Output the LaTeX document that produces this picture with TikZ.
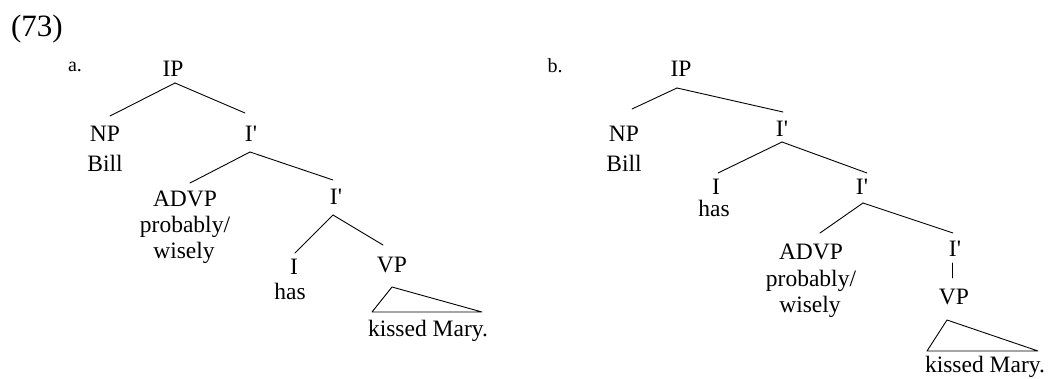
\documentclass[tikz,border=0pt]{standalone}
\usepackage{fontspec}
\setmainfont{Liberation Serif}
\usetikzlibrary{calc}
\newcommand{\ibar}{I\textquotesingle}
\begin{document}
\begin{tikzpicture}[x=1pt,y=-1pt,
  lab/.style={inner sep=0pt,anchor=base,font=\fontsize{23.5}{27}\selectfont},
  tag/.style={inner sep=0pt,anchor=base,font=\fontsize{20}{24}\selectfont},
  num/.style={inner sep=0pt,anchor=base,font=\fontsize{31}{36}\selectfont},
  edge/.style={line width=0.9pt,line cap=round,line join=round}]
\useasboundingbox (0,0) rectangle (1050,379);
\node[num] (ex) at (37,37) {(73)};
\node[tag] (la) at (75,72) {a.};
\node[tag] (lb) at (555,73) {b.};
% tree a
\node[lab] (IPa) at (173,77) {IP};
\node[lab] (NPa) at (105,142) {NP};
\node[lab] (Billa) at (105,172) {Bill};
\node[lab] (I1a) at (251,142) {\ibar};
\node[lab] (ADVPa) at (185,207) {ADVP};
\node[lab] (proba) at (185,233) {probably/};
\node[lab] (wisa) at (184,259) {wisely};
\node[lab] (I2a) at (336,205) {\ibar};
\node[lab] (Ia) at (294,275) {I};
\node[lab] (hasa) at (290,300) {has};
\node[lab] (VPa) at (392,273) {VP};
\node[lab] (kma) at (428,337) {kissed Mary.};
\draw[edge] ($(IPa.base)+(2,6)$) -- ($(NPa.base)+(5,-26)$);
\draw[edge] ($(IPa.base)+(2,6)$) -- ($(I1a.base)+(-6,-29)$);
\draw[edge] ($(I1a.base)+(-1,10)$) -- ($(ADVPa.base)+(5,-24)$);
\draw[edge] ($(I1a.base)+(-1,10)$) -- ($(I2a.base)+(-3,-25)$);
\draw[edge] ($(I2a.base)+(-3,10)$) -- ($(Ia.base)+(1,-22)$);
\draw[edge] ($(I2a.base)+(-3,10)$) -- ($(VPa.base)+(-9,-28)$);
\draw[edge] ($(VPa.base)+(0,14)$) -- ($(kma.base)+(-56,-25)$) -- ($(kma.base)+(54,-25)$) -- cycle;
% tree b
\node[lab] (IPb) at (681,77) {IP};
\node[lab] (NPb) at (624,142) {NP};
\node[lab] (Billb) at (624,172) {Bill};
\node[lab] (I1b) at (782,137) {\ibar};
\node[lab] (Ib) at (716,195) {I};
\node[lab] (hasb) at (714,217) {has};
\node[lab] (I2b) at (862,195) {\ibar};
\node[lab] (ADVPb) at (811,260) {ADVP};
\node[lab] (probb) at (811,287) {probably/};
\node[lab] (wisb) at (810,313) {wisely};
\node[lab] (I3b) at (955,257) {\ibar};
\node[lab] (VPb) at (954,305) {VP};
\node[lab] (kmb) at (985,373) {kissed Mary.};
\draw[edge] ($(IPb.base)+(-4,11)$) -- ($(NPb.base)+(8,-33)$);
\draw[edge] ($(IPb.base)+(-4,11)$) -- ($(I1b.base)+(1,-25)$);
\draw[edge] ($(I1b.base)+(0,5)$) -- ($(Ib.base)+(2,-22)$);
\draw[edge] ($(I1b.base)+(0,5)$) -- ($(I2b.base)+(5,-22)$);
\draw[edge] ($(I2b.base)+(1,8)$) -- ($(ADVPb.base)+(9,-27)$);
\draw[edge] ($(I2b.base)+(1,8)$) -- ($(I3b.base)+(-2,-24)$);
\draw[edge] ($(I3b.base)+(-3,6)$) -- ($(VPb.base)+(-2,-27)$);
\draw[edge] ($(VPb.base)+(-7,15)$) -- ($(kmb.base)+(-58,-22)$) -- ($(kmb.base)+(53,-22)$) -- cycle;
\end{tikzpicture}
\end{document}
